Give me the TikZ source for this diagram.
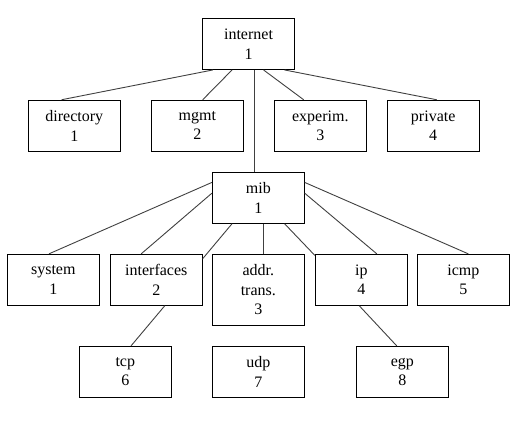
\documentclass[tikz,border=0pt]{standalone}
\usepackage{fontspec}
\setmainfont{Liberation Serif}
\usetikzlibrary{calc}
\tikzset{
  box/.style={draw=black, line width=0.9pt, minimum width=92pt, minimum height=51pt,
    inner sep=0pt, align=center, font=\fontsize{16}{19.5}\selectfont},
  tall/.style={minimum height=71pt},
  link/.style={draw=black!75, line width=0.9pt}
}
\begin{document}
\begin{tikzpicture}[x=1pt,y=-1pt]
\useasboundingbox (0,0) rectangle (522,421);
% level 1
\node[box] (internet) at (248.5,44) {internet\\1};
% level 2
\node[box] (directory) at (74.3,125.7) {directory\\1};
\node[box] (mgmt) at (197.3,125.7) {mgmt\\2};
\node[box] (experim) at (320.3,125.7) {experim.\\3};
\node[box] (private) at (433.2,125.7) {private\\4};
% mib
\node[box] (mib) at (258.3,197.8) {mib\\1};
% level 3
\node[box] (system) at (53.3,279.8) {system\\1};
\node[box] (interfaces) at (156.3,279.8) {interfaces\\2};
\node[box,tall] (addr) at (258.3,289.8) {addr.\\trans.\\3};
\node[box] (ip) at (361.3,279.8) {ip\\4};
\node[box] (icmp) at (463.3,279.8) {icmp\\5};
% level 4
\node[box] (tcp) at (125.3,371.8) {tcp\\6};
\node[box] (udp) at (258.3,371.8) {udp\\7};
\node[box] (egp) at (402.3,371.8) {egp\\8};
% connectors from internet
\draw[link] ($(internet.south west)!0.116!(internet.south east)$) -- ($(directory.north west)!0.363!(directory.north east)$);
\draw[link] ($(internet.south west)!0.323!(internet.south east)$) -- ($(mgmt.north west)!0.558!(mgmt.north east)$);
\coordinate (iv) at ($(internet.south west)!0.56!(internet.south east)$);
\draw[link] (iv) -- (iv |- mib.north);
\draw[link] ($(internet.south west)!0.662!(internet.south east)$) -- ($(experim.north west)!0.321!(experim.north east)$);
\draw[link] ($(internet.south west)!0.888!(internet.south east)$) -- ($(private.north west)!0.538!(private.north east)$);
% connectors from mib
\draw[link] ($(mib.north west)!0.204!(mib.south west)$) -- ($(system.north west)!0.453!(system.north east)$);
\draw[link] ($(mib.north west)!0.412!(mib.south west)$) -- ($(interfaces.north west)!0.337!(interfaces.north east)$);
\draw[link] ($(mib.south west)!0.217!(mib.south east)$) -- ($(interfaces.north east)!0.092!(interfaces.south east)$);
\coordinate (mv) at ($(mib.south west)!0.554!(mib.south east)$);
\draw[link] (mv) -- (mv |- addr.north);
\draw[link] ($(mib.south west)!0.783!(mib.south east)$) -- ($(ip.north west)!0.03!(ip.south west)$);
\draw[link] ($(mib.north east)!0.412!(mib.south east)$) -- ($(ip.north west)!0.667!(ip.north east)$);
\draw[link] ($(mib.north east)!0.204!(mib.south east)$) -- ($(icmp.north west)!0.554!(icmp.north east)$);
% level 4 connectors
\draw[link] ($(interfaces.south west)!0.591!(interfaces.south east)$) -- ($(tcp.north west)!0.562!(tcp.north east)$);
\draw[link] ($(ip.south west)!0.478!(ip.south east)$) -- ($(egp.north west)!0.44!(egp.north east)$);
\end{tikzpicture}
\end{document}
